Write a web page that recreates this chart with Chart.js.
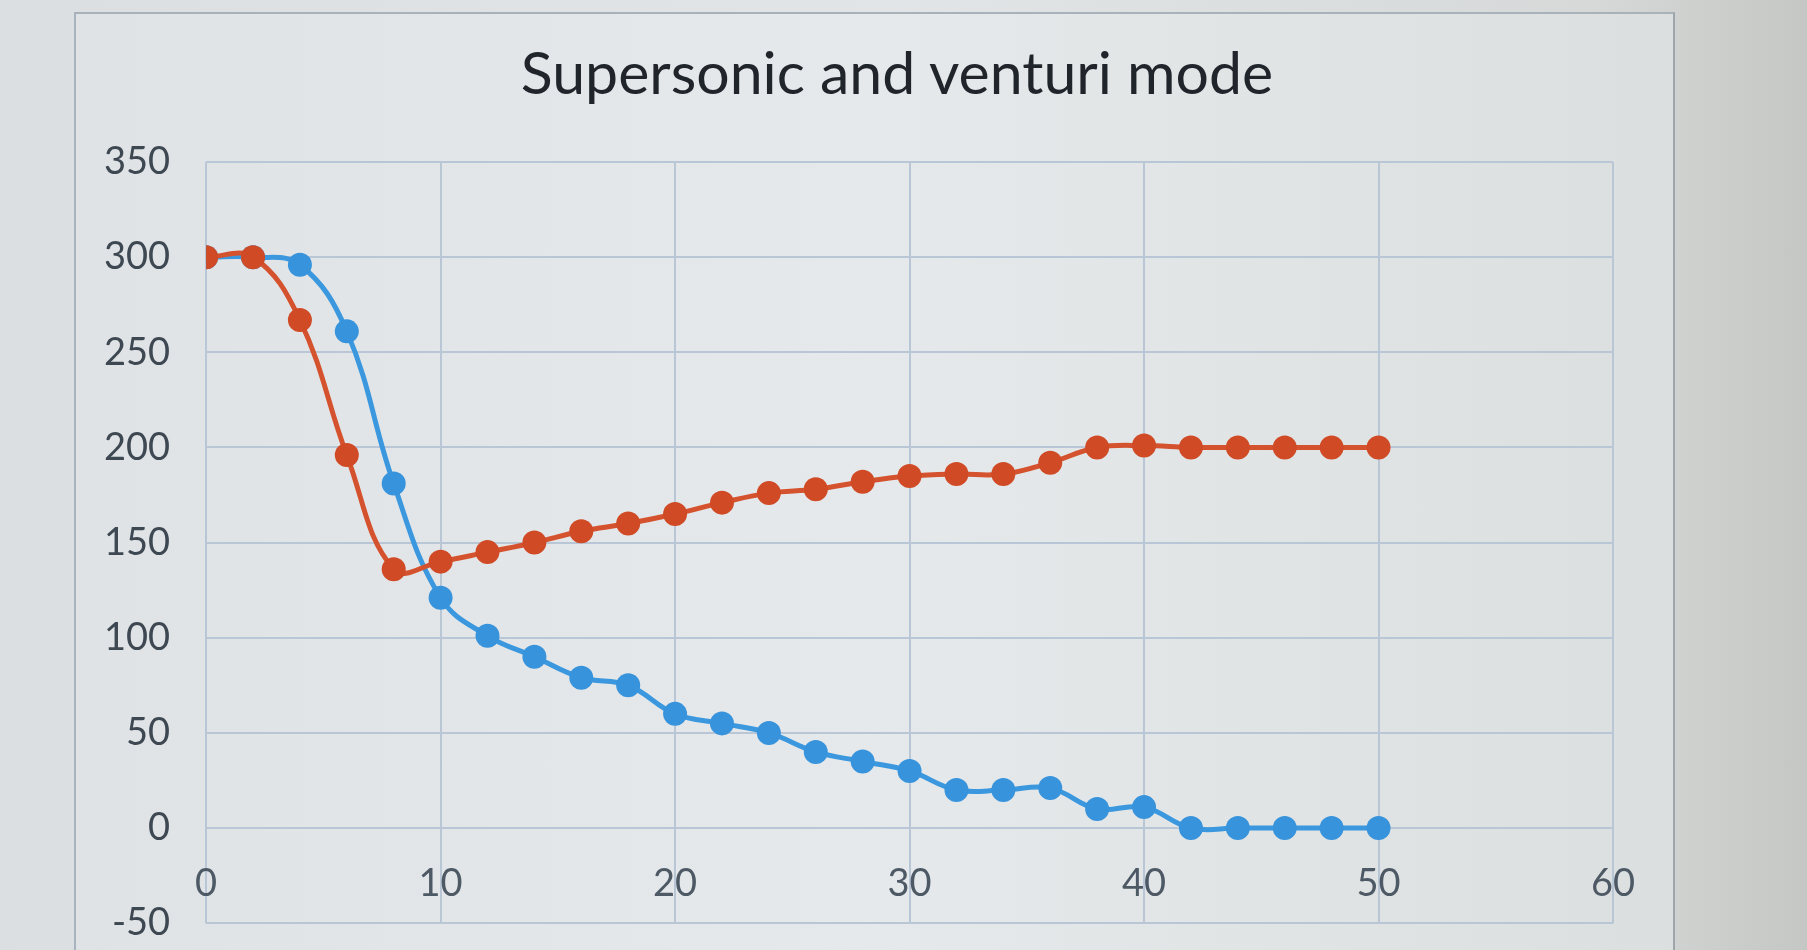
<!DOCTYPE html>
<html>
<head>
<meta charset="utf-8">
<title>Supersonic and venturi mode</title>
<script src="https://cdn.jsdelivr.net/npm/chart.js@4/dist/chart.umd.min.js"></script>
<style>
  html, body { margin: 0; padding: 0; }
  body {
    width: 1807px; height: 950px; overflow: hidden; position: relative;
    background: linear-gradient(to right, #dcdfe1 0%, #e2e5e7 50%, #d6d9d8 88%, #c4c7c3 100%);
  }
  /* frame of the chart object in the spreadsheet */
  #frame {
    position: absolute; left: 74px; top: 12px; width: 1597px; height: 960px;
    border-left: 2px solid #a9b3bd; border-right: 2px solid #9ea5ab; border-top: 2px solid #aab2b9;
    background: linear-gradient(to right, #e0e3e5 0%, #e6e9eb 50%, #dcdfdf 100%);
  }
  /* taller than the window: the bottom strip is cut off like in the photo */
  #wrap { position: absolute; left: 0; top: 0; width: 1807px; height: 982px; }
  #title {
    position: absolute; left: 0; top: 36px; width: 1794px; text-align: center;
    font-family: Lato, sans-serif; font-size: 59px; line-height: 72px; color: #1f252b;
  }
</style>
</head>
<body>
<div id="frame"></div>
<div id="title">Supersonic and venturi mode</div>
<div id="wrap"><canvas id="modeChart"></canvas></div>
<script>
// x positions of the readings
var xValues = [0, 2, 4, 6, 8, 10, 12, 14, 16, 18, 20, 22, 24, 26, 28, 30, 32, 34, 36, 38, 40, 42, 44, 46, 48, 50];
// Series1 (blue) and Series2 (orange)
var series1 = [300, 300, 296, 261, 181, 121, 101, 90, 79, 75, 60, 55, 50, 40, 35, 30, 20, 20, 21, 10, 11, 0, 0, 0, 0, 0];
var series2 = [300, 300, 267, 196, 136, 140, 145, 150, 156, 160, 165, 171, 176, 178, 182, 185, 186, 186, 192, 200, 201, 200, 200, 200, 200, 200];
var xTicks = [0, 10, 20, 30, 40, 50, 60];
var yTicks = [-50, 0, 50, 100, 150, 200, 250, 300, 350];

function toPoints(ys) {
    return xValues.map(function(x, i) { return { x: x, y: ys[i] }; });
}

var ctx = document.getElementById('modeChart').getContext('2d');
var modeChart = new Chart(ctx, {
    type: 'scatter',
    data: {
        datasets: [{
            label: 'Series2',
            data: toPoints(series2),
            showLine: true,
            borderColor: '#d4532e',
            backgroundColor: '#d04a25',
            borderWidth: 5,
            pointRadius: 12,
            pointBorderWidth: 0,
            tension: 0.4,
            order: 0
        }, {
            label: 'Series1',
            data: toPoints(series1),
            showLine: true,
            borderColor: '#3b98de',
            backgroundColor: '#3793dc',
            borderWidth: 5,
            pointRadius: 12,
            pointBorderWidth: 0,
            tension: 0.4,
            order: 1
        }]
    },
    options: {
        responsive: true,
        maintainAspectRatio: false,
        animation: false,
        layout: {
            padding: { left: 68, right: 194, top: 162, bottom: -5 }
        },
        scales: {
            x: {
                type: 'linear',
                min: 0,
                max: 60,
                position: { y: 0 },
                afterBuildTicks: function(axis) {
                    axis.ticks = xTicks.map(function(v) { return { value: v }; });
                },
                grid: { color: '#b9c6d6', lineWidth: 2, drawTicks: false },
                border: { display: false },
                ticks: {
                    padding: 33,
                    color: '#4d5965',
                    font: { family: 'Lato', size: 38 }
                }
            },
            y: {
                min: -50,
                max: 350,
                afterBuildTicks: function(axis) {
                    axis.ticks = yTicks.map(function(v) { return { value: v }; });
                },
                grid: { color: '#b9c6d6', lineWidth: 2, drawTicks: false },
                border: { display: false },
                ticks: {
                    padding: 36,
                    color: '#3e4852',
                    font: { family: 'Lato', size: 38 }
                }
            }
        },
        plugins: {
            legend: { display: false },
            tooltip: { enabled: false },
            title: { display: false }
        }
    }
});
</script>
</body>
</html>
